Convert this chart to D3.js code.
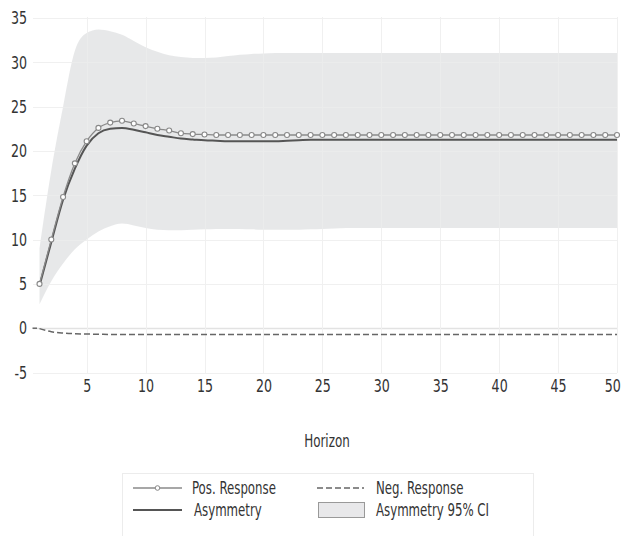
<!DOCTYPE html>
<html>
<head>
<meta charset="utf-8">
<script src="https://cdn.jsdelivr.net/npm/d3@7"></script>
<style>
  html, body { margin: 0; padding: 0; background: #fff; }
  svg text { font-family: "DejaVu Sans Condensed", "DejaVu Sans", sans-serif; font-stretch: condensed; fill: #333; }
</style>
</head>
<body>
<svg id="chart" width="622" height="536"></svg>
<script>
// ---- data ----
const horizon = [1,2,3,4,5,6,7,8,9,10,11,12,13,14,15,16,17,18,19,20,21,22,23,24,25,26,27,28,29,30,31,32,33,34,35,36,37,38,39,40,41,42,43,44,45,46,47,48,49,50];
const posResponse = [5.0,10.0,14.8,18.6,21.1,22.6,23.2,23.4,23.1,22.8,22.5,22.3,22.0,21.9,21.85,21.8,21.8,21.8,21.8,21.8,21.8,21.8,21.8,21.8,21.8,21.8,21.8,21.8,21.8,21.8,21.8,21.8,21.8,21.8,21.8,21.8,21.8,21.8,21.8,21.8,21.8,21.8,21.8,21.8,21.8,21.8,21.8,21.8,21.8,21.8];
const asymmetry = [4.8,9.7,14.5,18.0,20.6,22.0,22.5,22.6,22.4,22.1,21.8,21.6,21.4,21.3,21.2,21.15,21.1,21.1,21.1,21.1,21.1,21.15,21.2,21.25,21.25,21.25,21.25,21.25,21.25,21.25,21.25,21.25,21.25,21.25,21.25,21.25,21.25,21.25,21.25,21.25,21.25,21.25,21.25,21.25,21.25,21.25,21.25,21.25,21.25,21.25];
const negResponse = [-0.05,-0.4,-0.55,-0.62,-0.66,-0.68,-0.7,-0.7,-0.7,-0.7,-0.7,-0.7,-0.7,-0.7,-0.7,-0.7,-0.7,-0.7,-0.7,-0.7,-0.7,-0.7,-0.7,-0.7,-0.7,-0.7,-0.7,-0.7,-0.7,-0.7,-0.7,-0.7,-0.7,-0.7,-0.7,-0.7,-0.7,-0.7,-0.7,-0.7,-0.7,-0.7,-0.7,-0.7,-0.7,-0.7,-0.7,-0.7,-0.7,-0.7];
const ciUpper = [9.0,17.8,25.0,31.3,33.3,33.7,33.5,33.1,32.4,31.7,31.2,30.8,30.6,30.5,30.5,30.55,30.7,30.85,30.95,31.0,31.05,31.05,31.05,31.05,31.05,31.05,31.05,31.05,31.05,31.05,31.05,31.05,31.05,31.05,31.05,31.05,31.05,31.05,31.05,31.05,31.05,31.05,31.05,31.05,31.05,31.05,31.05,31.05,31.05,31.05];
const ciLower = [2.7,5.3,7.3,8.9,10.0,10.9,11.5,11.8,11.6,11.3,11.1,11.05,11.05,11.1,11.15,11.2,11.2,11.2,11.15,11.1,11.1,11.1,11.1,11.15,11.2,11.25,11.3,11.3,11.3,11.3,11.3,11.3,11.3,11.3,11.3,11.3,11.3,11.3,11.3,11.3,11.3,11.3,11.3,11.3,11.3,11.3,11.3,11.3,11.3,11.3];
const xTicks = [5,10,15,20,25,30,35,40,45,50];
const yTicks = [-5,0,5,10,15,20,25,30,35];
const xTitle = "Horizon";
const legendItems = ["Pos. Response", "Neg. Response", "Asymmetry", "Asymmetry 95% CI"];

// ---- chart ----
const svg = d3.select("#chart");
const x = d3.scaleLinear().domain([1, 50]).range([39.5, 617]);
const y = d3.scaleLinear().domain([-5, 35]).range([372.5, 18]);

const rows = horizon.map((h, i) => ({
  h, pos: posResponse[i], asym: asymmetry[i], neg: negResponse[i], lo: ciLower[i], hi: ciUpper[i]
}));

// condense text horizontally to mimic the narrow typeface
function narrow(sel, k) {
  sel.each(function () {
    const t = d3.select(this);
    const ax = +t.attr("x") || 0;
    const ay = +t.attr("y") || 0;
    t.attr("transform", (t.attr("transform") || "") + ` translate(${ax},${ay}) scale(${k},1) translate(${-ax},${-ay})`);
  });
}

// gridlines
const grid = svg.append("g");
grid.selectAll("line.h").data(yTicks).join("line")
  .attr("x1", 33).attr("x2", 617)
  .attr("y1", d => Math.round(y(d)) + 0.5).attr("y2", d => Math.round(y(d)) + 0.5)
  .attr("stroke", d => d === 0 ? "#e2e2e2" : "#eeeeee").attr("stroke-width", d => d === 0 ? 1.5 : 1);
grid.selectAll("line.v").data(xTicks).join("line")
  .attr("x1", d => Math.round(x(d)) + 0.5).attr("x2", d => Math.round(x(d)) + 0.5)
  .attr("y1", 17).attr("y2", 373)
  .attr("stroke", "#eeeeee").attr("stroke-width", 1);

// CI band
const area = d3.area().x(d => x(d.h)).y0(d => y(d.lo)).y1(d => y(d.hi)).curve(d3.curveMonotoneX);
svg.append("path").datum(rows).attr("d", area).attr("fill", "#e4e5e7").attr("fill-opacity", 0.9);

// faint gridlines over band
const grid2 = svg.append("g").attr("opacity", 0.35);
grid2.selectAll("line.h").data(yTicks.filter(d => d !== 0)).join("line")
  .attr("x1", 33).attr("x2", 617)
  .attr("y1", d => Math.round(y(d)) + 0.5).attr("y2", d => Math.round(y(d)) + 0.5)
  .attr("stroke", "#f6f6f6");
grid2.selectAll("line.v").data(xTicks).join("line")
  .attr("x1", d => Math.round(x(d)) + 0.5).attr("x2", d => Math.round(x(d)) + 0.5)
  .attr("y1", 17).attr("y2", 373)
  .attr("stroke", "#f6f6f6");

// negative response (dashed)
const lineNeg = d3.line().x(d => x(d.h)).y(d => y(d.neg)).curve(d3.curveMonotoneX);
svg.append("path").datum(rows).attr("d", lineNeg)
  .attr("fill", "none").attr("stroke", "#666").attr("stroke-width", 1.5).attr("stroke-dasharray", "6,3");

// asymmetry
const lineAsym = d3.line().x(d => x(d.h)).y(d => y(d.asym)).curve(d3.curveMonotoneX);
svg.append("path").datum(rows).attr("d", lineAsym)
  .attr("fill", "none").attr("stroke", "#555").attr("stroke-width", 2);

// positive response with markers
const linePos = d3.line().x(d => x(d.h)).y(d => y(d.pos)).curve(d3.curveMonotoneX);
svg.append("path").datum(rows).attr("d", linePos)
  .attr("fill", "none").attr("stroke", "#8a8a8a").attr("stroke-width", 1.3);
svg.append("g").selectAll("circle").data(rows).join("circle")
  .attr("cx", d => x(d.h)).attr("cy", d => y(d.pos)).attr("r", 2.5)
  .attr("fill", "#fff").attr("stroke", "#888").attr("stroke-width", 1.1);

// axes
const yAxis = d3.axisLeft(y).tickValues(yTicks).tickSize(0).tickPadding(0).tickFormat(d => String(d));
const gy = svg.append("g").attr("transform", "translate(27,0)").call(yAxis);
gy.select(".domain").remove();
gy.selectAll("text").attr("font-size", 18).style("fill", "#333").call(narrow, 0.78);
svg.append("line").attr("x1", 32.5).attr("x2", 37).attr("y1", y(0)).attr("y2", y(0))
  .attr("stroke", "#555").attr("stroke-width", 1.3);

const xAxis = d3.axisBottom(x).tickValues(xTicks).tickSize(0).tickPadding(7).tickFormat(d => String(d));
const gx = svg.append("g").attr("transform", "translate(0,372.5)").call(xAxis);
gx.select(".domain").remove();
gx.selectAll("text").attr("font-size", 18).style("fill", "#333")
  .attr("dx", d => d === 50 ? -6 : 0).call(narrow, 0.78);

const title = svg.append("text").attr("x", 327).attr("y", 447).attr("text-anchor", "middle")
  .attr("font-size", 17).text(xTitle);
narrow(title, 0.78);

// legend
const lg = svg.append("g");
lg.append("rect").attr("x", 122.5).attr("y", 473.5).attr("width", 411).attr("height", 80)
  .attr("fill", "#fff").attr("stroke", "#ececec");
const r1 = 488, r2 = 510;
lg.append("line").attr("x1", 133).attr("x2", 182).attr("y1", r1).attr("y2", r1).attr("stroke", "#8a8a8a").attr("stroke-width", 1.3);
lg.append("circle").attr("cx", 157.5).attr("cy", r1).attr("r", 2.3).attr("fill", "#fff").attr("stroke", "#888");
lg.append("text").attr("x", 192).attr("y", r1).attr("dy", "0.35em").attr("font-size", 17).text(legendItems[0]);

lg.append("line").attr("x1", 317).attr("x2", 364).attr("y1", r1).attr("y2", r1).attr("stroke", "#666").attr("stroke-width", 1.5).attr("stroke-dasharray", "6,3");
lg.append("text").attr("x", 376).attr("y", r1).attr("dy", "0.35em").attr("font-size", 17).text(legendItems[1]);

lg.append("line").attr("x1", 133).attr("x2", 182).attr("y1", r2).attr("y2", r2).attr("stroke", "#555").attr("stroke-width", 2);
lg.append("text").attr("x", 194).attr("y", r2).attr("dy", "0.35em").attr("font-size", 17).text(legendItems[2]);

lg.append("rect").attr("x", 318.5).attr("y", 502.5).attr("width", 46).attr("height", 15)
  .attr("fill", "#e8e8ea").attr("stroke", "#999");
lg.append("text").attr("x", 376).attr("y", r2).attr("dy", "0.35em").attr("font-size", 17).text(legendItems[3]);
lg.selectAll("text").call(narrow, 0.77);
</script>
</body>
</html>
